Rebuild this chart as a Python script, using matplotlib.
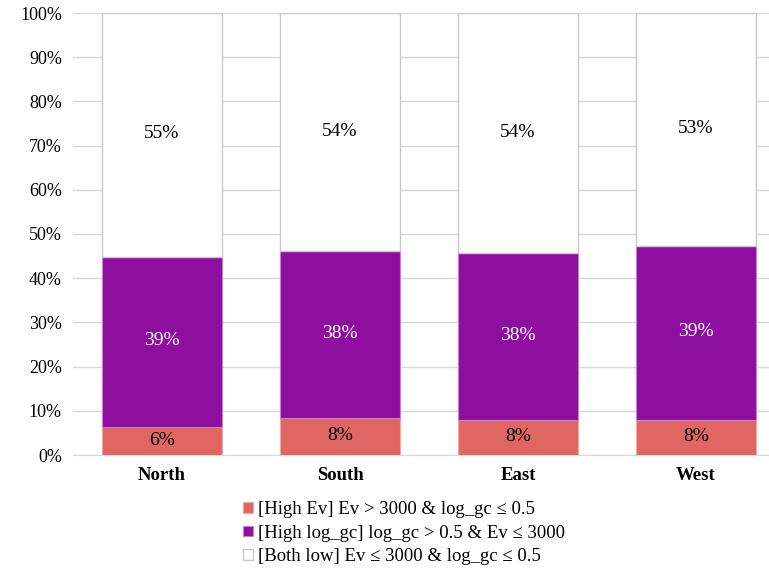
import matplotlib.pyplot as plt
import numpy as np

regions = ["North", "South", "East", "West"]
high_ev = [6.3, 8.4, 8.0, 8.0]
high_gc = [38.6, 37.8, 37.7, 39.3]
both_low = [55.1, 53.8, 54.3, 52.7]
labels = ["[High Ev] Ev > 3000 & log_gc \u2264 0.5",
          "[High log_gc] log_gc > 0.5 & Ev \u2264 3000",
          "[Both low] Ev \u2264 3000 & log_gc \u2264 0.5"]

plt.rcParams['font.family'] = ['Liberation Serif', 'DejaVu Serif']

fig = plt.figure(figsize=(7.69, 5.70), dpi=100)
ax = fig.add_axes([73/769, 1-455/570, (769-73)/769, 442/570])

x = np.arange(len(regions))
w = 0.67
red = "#E06662"
purple = "#8E0E9F"

b1 = ax.bar(x, high_ev, w, color=red, edgecolor="#EFA9A6", linewidth=0.8, zorder=3)
b2 = ax.bar(x, high_gc, w, bottom=high_ev, color=purple, edgecolor="#C77FD0", linewidth=0.8, zorder=3)
bot = np.array(high_ev) + np.array(high_gc)
b3 = ax.bar(x, both_low, w, bottom=bot, color="white", edgecolor="#C8C8C8", linewidth=1.0, zorder=3)

for i in range(len(regions)):
    ax.text(x[i], high_ev[i] / 2 + 0.2, f"{round(high_ev[i])}%", ha="center", va="center",
            fontsize=14, color="black", zorder=4)
    ax.text(x[i], high_ev[i] + high_gc[i] / 2 + 0.2, f"{round(high_gc[i])}%", ha="center", va="center",
            fontsize=14, color="white", zorder=4)
    ax.text(x[i], bot[i] + both_low[i] / 2 + 0.2, f"{round(both_low[i])}%", ha="center", va="center",
            fontsize=14, color="black", zorder=4)

ax.set_ylim(0, 100)
ax.set_xlim(-0.5, 3.41)
ax.set_yticks(np.arange(0, 101, 10))
ax.set_yticklabels([f"{v}%" for v in range(0, 101, 10)], fontsize=13)
ax.set_xticks(x)
ax.set_xticklabels(regions, fontsize=13.5, fontweight="bold")
ax.yaxis.grid(True, color="#D9D9D9", linewidth=1.0, zorder=0)
for s in ["top", "right", "left"]:
    ax.spines[s].set_visible(False)
ax.spines["bottom"].set_color("#D9D9D9")
ax.tick_params(axis="y", length=0, pad=8)
ax.tick_params(axis="x", length=0, pad=9)

leg = fig.legend([b1, b2, b3], labels, loc="center", bbox_to_anchor=(404/769, 1-533/570),
                 frameon=False, fontsize=13.5, handlelength=0.5, handleheight=0.5,
                 handletextpad=0.25, labelspacing=0.35, borderpad=0)

fig.savefig("out.png", dpi=100)
